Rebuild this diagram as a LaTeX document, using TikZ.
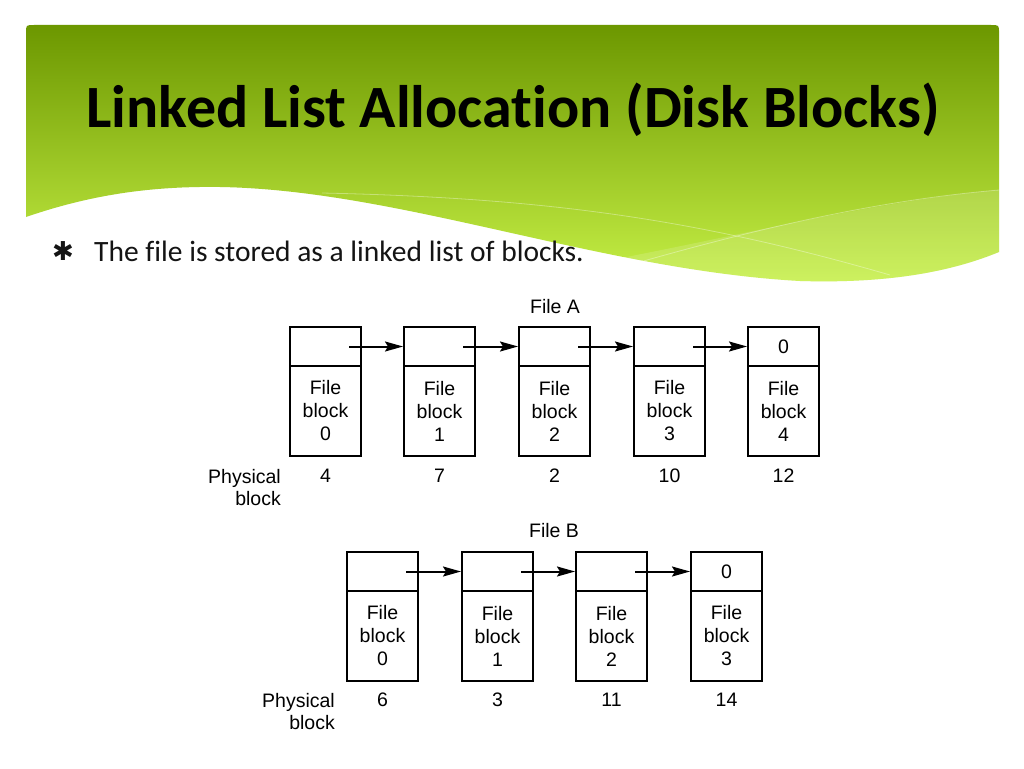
\documentclass[tikz,border=0pt]{standalone}
\usepackage{fontspec}
\setmainfont{Carlito}[RawFeature=-liga]
\newfontfamily\diagfont{Liberation Sans}
\newfontfamily\symfont{DejaVu Sans}
\usetikzlibrary{arrows.meta}
\definecolor{hdrTop}{RGB}{108,151,0}
\definecolor{hdrBot}{RGB}{198,240,70}
\definecolor{txt}{RGB}{20,20,20}
\begin{document}
\begin{tikzpicture}[x=1pt,y=-1pt,
  blk/.style={draw, line width=2pt, minimum width=71pt, inner sep=0pt,
    font=\diagfont\fontsize{19.5}{23}\selectfont, align=center},
  ptr/.style={blk, minimum height=39pt},
  dat/.style={blk, minimum height=90pt},
  lbl/.style={font=\diagfont\fontsize{19.5}{22}\selectfont, inner sep=0pt, align=right},
  arr/.style={line width=2pt, -{Stealth[length=18pt,width=10pt,inset=3pt]}}]
\useasboundingbox (0,0) rectangle (1024,768);
\fill[white] (0,0) rectangle (1024,768);
% header
\shade[top color=hdrTop, bottom color=hdrBot]
  (26,217) -- (26,33) .. controls (26,25) .. (34,25) -- (991,25)
  .. controls (999,25) .. (999,33) -- (999,252)
  .. controls (960,268) and (900,284) .. (800,281)
  .. controls (600,270) and (400,190) .. (220,187)
  .. controls (150,186) and (90,195) .. (26,217) -- cycle;
\fill[white, opacity=0.14]
  (600,262) .. controls (720,240) and (880,200) .. (999,190) -- (999,252)
  .. controls (960,268) and (900,284) .. (800,281)
  .. controls (720,278) and (660,272) .. (600,262) -- cycle;
\draw[white, opacity=0.35, line width=0.8pt]
  (322,193) .. controls (550,198) and (700,220) .. (890,275);
\draw[white, opacity=0.35, line width=0.8pt]
  (640,262) .. controls (760,228) and (880,200) .. (999,190);
\node[anchor=base, inner sep=0pt, font=\bfseries\fontsize{60}{64}\selectfont] (title) at (513,127) {Linked List Allocation (Disk Blocks)};
% bullet
\node[inner sep=0pt, text=txt, font=\symfont\fontsize{26}{26}\selectfont] (bul) at (63,251) {✱};
\node[anchor=base west, inner sep=0pt, text=txt, font=\fontsize{29.5}{32}\selectfont] (btext) at (94,261) {The file is stored as a linked list of blocks.};
% File A
\node[lbl] (fileA) at (555,307) {File A};
\foreach \i/\x/\p in {0/290/4,1/404/7,2/519/2,3/634/10,4/748/12} {
  \node[dat] (aD\i) at (\x+35.5,411) {File\\block\\\i};
  \node[lbl] (aP\i) at (\x+35.5,476) {\p};
}
\foreach \i/\x in {0/290,1/404,2/519,3/634} {
  \node[ptr] (aT\i) at (\x+35.5,346.5) {};
}
\node[ptr] (aT4) at (783.5,346.5) {0};
\node[lbl, anchor=east] (physA) at (281,488) {Physical\\block};
\foreach \i/\j in {0/1,1/2,2/3,3/4}
  \draw[arr] ([xshift=23.5pt]aT\i.center) -- (aT\j.west);
% File B
\node[lbl] (fileB) at (554,531) {File B};
\foreach \i/\x/\p in {0/347/6,1/462/3,2/576/11,3/691/14} {
  \node[dat] (bD\i) at (\x+35.5,636) {File\\block\\\i};
  \node[lbl] (bP\i) at (\x+35.5,700) {\p};
}
\foreach \i/\x in {0/347,1/462,2/576} {
  \node[ptr] (bT\i) at (\x+35.5,571.5) {};
}
\node[ptr] (bT3) at (726.5,571.5) {0};
\node[lbl, anchor=east] (physB) at (335,712) {Physical\\block};
\foreach \i/\j in {0/1,1/2,2/3}
  \draw[arr] ([xshift=23.5pt]bT\i.center) -- (bT\j.west);
\end{tikzpicture}
\end{document}
